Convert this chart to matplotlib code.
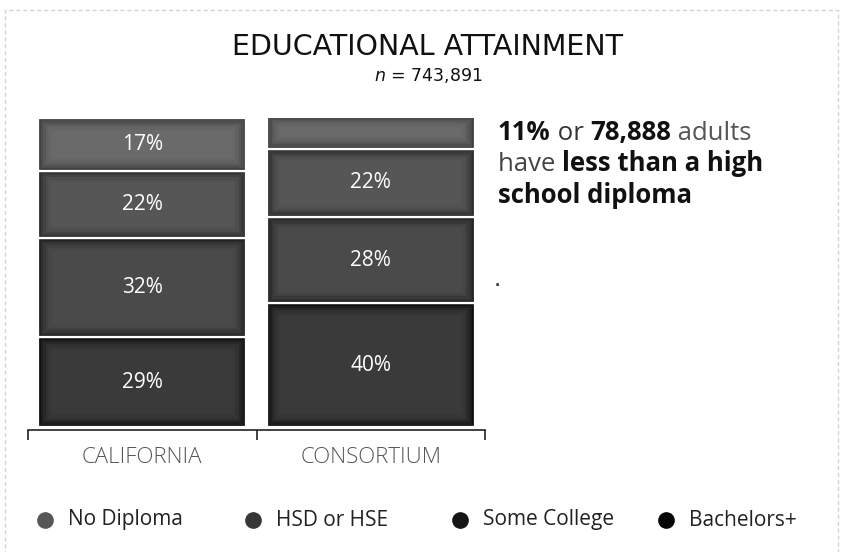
import matplotlib
matplotlib.use("Agg")
import matplotlib.pyplot as plt
from matplotlib.patches import Rectangle
from matplotlib.lines import Line2D
from matplotlib.colors import to_rgb
import numpy as np

categories = ["CALIFORNIA", "CONSORTIUM"]
series_names = ["No Diploma", "HSD or HSE", "Some College", "Bachelors+"]
no_diploma = [17, 11]
hsd_hse = [22, 22]
some_college = [32, 28]
bachelors = [29, 40]
title = "EDUCATIONAL ATTAINMENT"
subtitle_n = "743,891"

# stacked from bottom to top
stack_order = [bachelors, some_college, hsd_hse, no_diploma]
fill_colors = ["#3a3a3a", "#4a4a4a", "#565656", "#6a6a6a"]
edge_colors = ["#101010", "#222222", "#2c2c2c", "#404040"]
legend_colors = ["#575757", "#363636", "#151515", "#050505"]

fig = plt.figure(figsize=(8.41, 5.52), dpi=100)
fig.patch.set_facecolor("white")

# dashed border
fig.patches.append(Rectangle((0.006, -0.01), 0.99, 0.992, transform=fig.transFigure,
                             fill=False, edgecolor="#d4d4d4", linestyle=(0, (3, 2)),
                             linewidth=1.0))

ax = fig.add_axes([28/841, (552-430)/552, 457/841, (430-118)/552])
x = np.arange(len(categories))
width = 0.91
bottom = np.zeros(len(categories))
nlay = 6
for vals, fc, ec in zip(stack_order, fill_colors, edge_colors):
    vals = np.array(vals, dtype=float)
    ax.bar(x, vals, width, bottom=bottom, color=ec, edgecolor="white", linewidth=1.6, zorder=2)
    c0, c1 = np.array(to_rgb(ec)), np.array(to_rgb(fc))
    for k in range(1, nlay + 1):
        t = k / nlay
        col = c0 + (c1 - c0) * (1 - (1 - t) ** 2)
        ix, iy = 0.011 * k, 0.75 * k
        ax.bar(x, np.maximum(vals - 2*iy, 0.5), width - 2*ix, bottom=bottom + iy,
               color=col, linewidth=0, zorder=2 + k)
    for i, v in enumerate(vals):
        if v >= 15:
            ax.text(x[i], bottom[i] + v/2, f"{int(v)}%", ha="center", va="center",
                    color="white", fontsize=15, family="Open Sans", zorder=20)
    bottom += vals

ax.set_xlim(-0.5, 1.5)
ax.set_ylim(-1, 100)
for s in ["top", "right", "left"]:
    ax.spines[s].set_visible(False)
ax.spines["bottom"].set_linewidth(1.2)
ax.spines["bottom"].set_color("#222222")
ax.set_yticks([])
ax.set_xticks([-0.5, 0.5, 1.5])
ax.set_xticklabels([])
ax.tick_params(axis="x", which="major", length=7, width=1.2, color="#222222", direction="out")
ax.set_xticks(x, minor=True)
ax.set_xticklabels(categories, minor=True, fontsize=16, color="#555555",
                   family="Open Sans", fontweight="light")
ax.tick_params(axis="x", which="minor", length=0, pad=12)

# titles
fig.text(428/841, 1 - 47/552, title, ha="center", va="center", fontsize=20.5,
         family="DejaVu Sans", color="#111111")
fig.text(428/841, 1 - 76/552, r"$\it{n}$ = " + subtitle_n, ha="center", va="center",
         fontsize=12.5, family="DejaVu Sans", color="#111111")

# annotation with mixed weights
fs = 18.5
fam = "Open Sans"

def chain(parts, x0, y0):
    prev = fig.text(x0, y0, parts[0][0], fontsize=fs, fontweight=parts[0][1],
                    color=parts[0][2], family=fam, ha="left", va="baseline")
    for txt, weight, col in parts[1:]:
        prev = ax.annotate(txt, xy=(1, 0), xycoords=prev, xytext=(0, 0),
                           textcoords="offset points", fontsize=fs, fontweight=weight,
                           color=col, family=fam, ha="left", va="bottom",
                           annotation_clip=False)

chain([("11%", "bold", "#111111"), (" or ", "normal", "#333333"),
       ("78,888", "bold", "#111111"), (" adults", "normal", "#555555")],
      498/841, 1 - 140/552)
chain([("have ", "normal", "#444444"), ("less than a high", "bold", "#111111")],
      498/841, 1 - 171/552)
chain([("school diploma", "bold", "#111111")], 498/841, 1 - 203/552)

fig.text(495/841, 1 - 286/552, ".", fontsize=10, fontweight="bold", color="#333333")

# legend
leg_x = [45, 253, 460, 666]
for name, c, lx in zip(series_names, legend_colors, leg_x):
    fig.add_artist(Line2D([lx/841], [1 - 520/552], marker="o", linestyle="",
                          markersize=11, markerfacecolor=c, markeredgecolor=c,
                          transform=fig.transFigure))
    fig.text((lx + 23)/841, 1 - 520/552, name, ha="left", va="center",
             fontsize=15, family="Open Sans", color="#222222")

fig.savefig("out.png", dpi=100, facecolor="white")
